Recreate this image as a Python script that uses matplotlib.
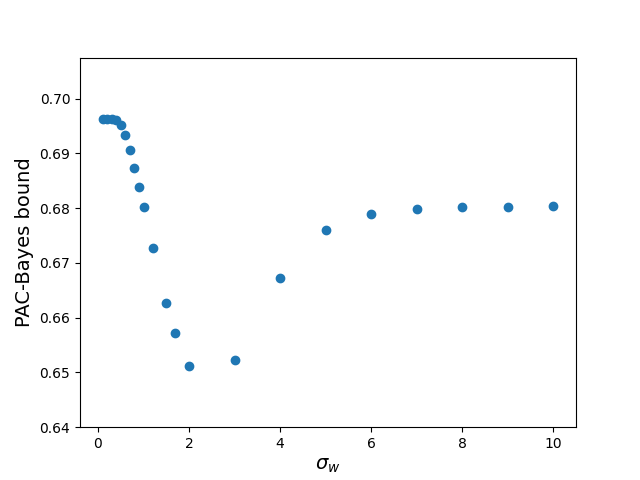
import numpy as np
import matplotlib
matplotlib.use('Agg')
import matplotlib.pyplot as plt

# prior std values and the corresponding bound
sigma_w = [0.1, 0.2, 0.3, 0.4, 0.5, 0.6, 0.7, 0.8, 0.9, 1.0,
           1.2, 1.5, 1.7, 2, 3, 4, 5, 6, 7, 8, 9, 10]
bound = [0.6963, 0.6963, 0.6963, 0.6961, 0.6952, 0.6934, 0.6906, 0.6873,
         0.6838, 0.6802, 0.6727, 0.6627, 0.6572, 0.6511, 0.6522, 0.6673,
         0.6760, 0.6789, 0.6798, 0.6802, 0.6802, 0.6804]

fig, ax = plt.subplots(figsize=(6.4, 4.8), dpi=100)
ax.scatter(sigma_w, bound)
ax.set_ylim(0.64, 0.7075)
ax.set_xlabel(r'$\sigma_w$', fontsize=14)
ax.set_ylabel('PAC-Bayes bound', fontsize=14)
fig.savefig('out.png')
